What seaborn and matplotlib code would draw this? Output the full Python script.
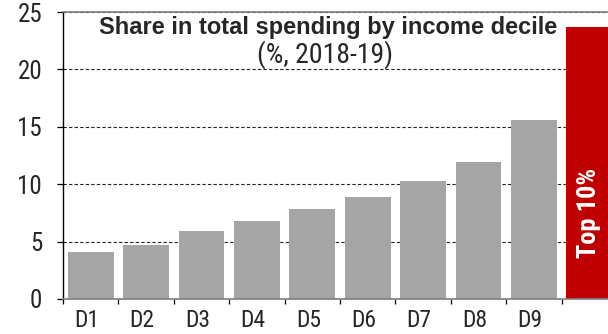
import matplotlib
matplotlib.use("Agg")
import matplotlib.pyplot as plt
from matplotlib import font_manager
from matplotlib.transforms import ScaledTranslation
import numpy as np
import seaborn as sns

# Share of total household spending by income decile, 2018-19 (%)
deciles = ["D1", "D2", "D3", "D4", "D5", "D6", "D7", "D8", "D9", "Top 10%"]
shares = [4.1, 4.7, 5.95, 6.8, 7.8, 8.9, 10.3, 11.9, 15.6, 23.7]
tick_labels = ["D1", "D2", "D3", "D4", "D5", "D6", "D7", "D8", "D9", ""]
bar_colors = ["#A5A5A5"] * 9 + ["#C00000"]

sns.set_theme(style="white")

# condensed sans (regular + bold) for ticks and labels
installed = {f.name for f in font_manager.fontManager.ttflist}
narrow_choices = ["Liberation Sans Narrow", "Arial Narrow", "Roboto Condensed",
                  "PT Sans Narrow", "Archivo Narrow"]
narrow_font = next((n for n in narrow_choices if n in installed), "Liberation Sans")
narrow = [narrow_font, "Liberation Sans", "DejaVu Sans"]
plt.rcParams["font.family"] = narrow

W, H = 608, 334
fig = plt.figure(figsize=(W / 100, H / 100), dpi=100)
# axes spans ten category slots; the last slot runs past the right edge
ax = fig.add_axes([63 / W, (H - 299) / H, 554 / W, (299 - 12) / H])

sns.barplot(x=deciles, y=shares, hue=deciles, palette=bar_colors,
            width=0.83, legend=False, ax=ax, saturation=1, linewidth=0)

ax.set_xlim(-0.5, 9.5)
ax.set_ylim(0, 25)
ax.set_yticks([0, 5, 10, 15, 20, 25])
ax.set_xlabel("")
ax.set_ylabel("")

# dashed horizontal gridlines behind the bars
ax.set_axisbelow(True)
ax.yaxis.grid(True, color="#222222", linestyle=(0, (3, 2)), linewidth=0.8)
ax.xaxis.grid(False)

# category labels centred under bars, small ticks on the slot boundaries
ax.set_xticks(range(len(deciles)))
ax.set_xticklabels(tick_labels, fontsize=17)
ax.set_xticks(np.arange(-0.5, 9.6, 1.0), minor=True)
ax.tick_params(axis="x", which="major", length=0, pad=7)
ax.tick_params(axis="x", which="minor", length=3.5, width=0.9, color="black",
               direction="out", bottom=True)
shift = ScaledTranslation(-4 / 100, 0, fig.dpi_scale_trans)
for lab in ax.get_xticklabels():
    lab.set_transform(lab.get_transform() + shift)

ax.tick_params(axis="y", which="major", length=4, width=0.9, color="black",
               direction="out", left=True, labelsize=18, pad=11)

ax.spines["left"].set_color("black")
ax.spines["left"].set_linewidth(1.0)
for side in ["top", "bottom"]:
    ax.spines[side].set_color("#7F7F7F")
    ax.spines[side].set_linewidth(1.2)
ax.spines["right"].set_visible(False)

# label inside the top-decile bar
ax.text(9, 7.5, "Top 10%", rotation=90, ha="center", va="center",
        color="white", fontsize=19, fontweight="bold", family=narrow)

fig.text(328 / W, 1 - 34 / H, "Share in total spending by income decile",
         ha="center", va="baseline", fontsize=17, fontweight="bold",
         family=["Liberation Sans", "DejaVu Sans"])
fig.text(325 / W, 1 - 63 / H, "(%, 2018-19)", ha="center", va="baseline",
         fontsize=20, family=narrow)

fig.savefig("out.png", dpi=100)
